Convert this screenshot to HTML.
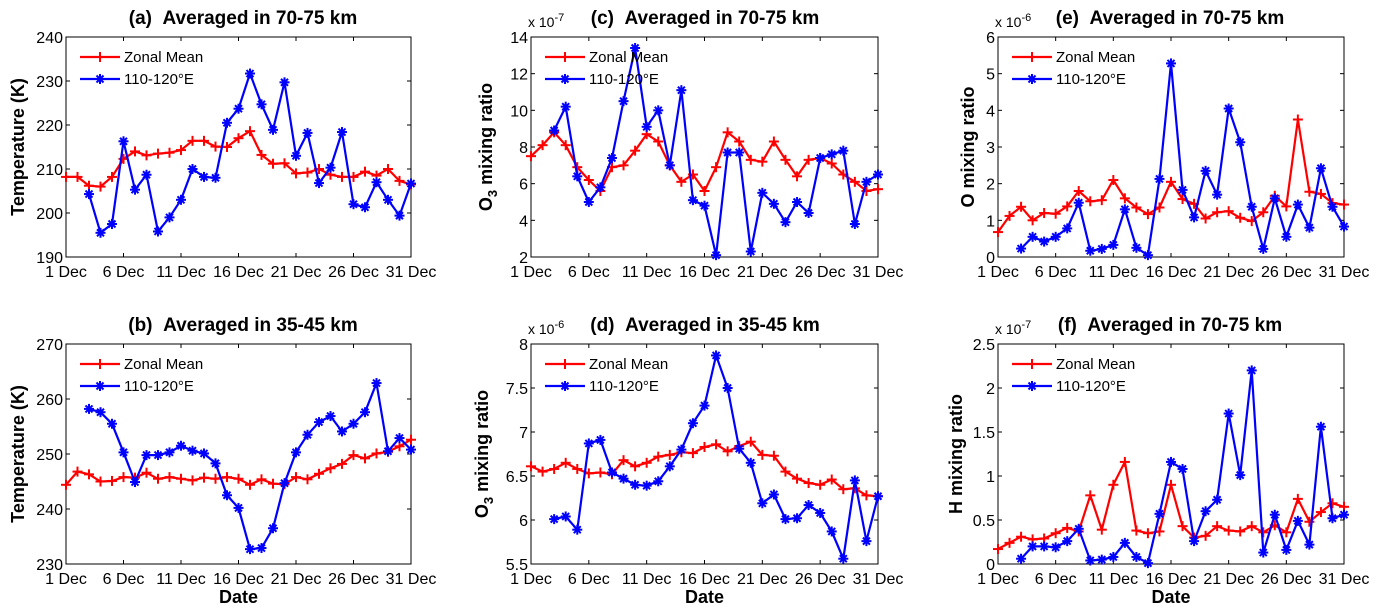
<!DOCTYPE html>
<html><head><meta charset="utf-8"><style>
body{margin:0;background:#fff;}
svg{display:block;font-family:"Liberation Sans",Arial,sans-serif;}
</style></head><body>
<svg id="chart" width="1381" height="611" viewBox="0 0 1381 611" xmlns="http://www.w3.org/2000/svg"></svg>
<script>
const days = [1,2,3,4,5,6,7,8,9,10,11,12,13,14,15,16,17,18,19,20,21,22,23,24,25,26,27,28,29,30,31];
const blueDays = days.slice(2);
const xTickDays = [1,6,11,16,21,26,31];
const xTickLabels = ["1 Dec","6 Dec","11 Dec","16 Dec","21 Dec","26 Dec","31 Dec"];

const aRed = [208.2,208.2,206.2,206,208.2,212.3,214,213.1,213.5,213.7,214.3,216.4,216.4,215.1,215,217,218.6,213.2,211.2,211.3,209,209.2,210,208.7,208.2,208.2,209.4,208.5,210,207.3,206.5];
const aBlue = [204.3,195.5,197.5,216.3,205.3,208.7,195.8,199,203,210,208.2,208,220.5,223.7,231.7,224.7,218.9,229.7,213,218.2,206.8,210.3,218.4,202,201.3,207,203,199.4,206.7];
const aTicks = [190,200,210,220,230,240];

const bRed = [244.4,246.8,246.3,245,245.1,245.8,245.7,246.6,245.5,245.8,245.5,245.2,245.7,245.5,245.8,245.5,244.4,245.4,244.6,244.5,245.8,245.4,246.4,247.4,248.2,249.8,249.2,250.1,250.4,251.4,252.6];
const bBlue = [258.2,257.6,255.5,250.3,244.9,249.8,249.8,250.3,251.5,250.6,250.1,248.3,242.5,240.2,232.7,232.9,236.5,244.7,250.3,253.5,255.8,256.9,254.1,255.5,257.6,262.9,250.5,252.9,250.8];
const bTicks = [230,240,250,260,270];

const cRed = [7.5,8.1,8.8,8.1,6.9,6.2,5.6,6.9,7,7.8,8.7,8.3,7,6.1,6.5,5.6,6.9,8.8,8.3,7.3,7.2,8.3,7.3,6.4,7.3,7.4,7.1,6.5,6.1,5.6,5.7];
const cBlue = [8.9,10.2,6.4,5,5.8,7.4,10.5,13.4,9.1,10,7,11.1,5.1,4.8,2.1,7.7,7.7,2.3,5.5,4.9,3.9,5,4.4,7.4,7.6,7.8,3.8,6.1,6.5];
const cTicks = [2,4,6,8,10,12,14];

const dRed = [6.61,6.55,6.58,6.65,6.58,6.53,6.54,6.52,6.68,6.61,6.65,6.72,6.74,6.77,6.76,6.83,6.86,6.78,6.84,6.89,6.74,6.73,6.55,6.47,6.42,6.40,6.46,6.35,6.36,6.28,6.27];
const dBlue = [6.01,6.04,5.89,6.87,6.91,6.54,6.47,6.40,6.39,6.44,6.61,6.80,7.10,7.30,7.87,7.50,6.81,6.65,6.19,6.29,6.01,6.02,6.17,6.08,5.87,5.56,6.45,5.76,6.27];
const dTicks = [5.5,6,6.5,7,7.5,8];
const dTickLabels = ["5.5","6","6.5","7","7.5","8"];

const eRed = [0.68,1.12,1.37,1.0,1.2,1.18,1.38,1.8,1.52,1.55,2.1,1.6,1.35,1.17,1.35,2.05,1.58,1.45,1.05,1.22,1.25,1.07,0.98,1.22,1.67,1.38,3.75,1.78,1.72,1.47,1.43];
const eBlue = [0.23,0.55,0.42,0.55,0.78,1.48,0.17,0.22,0.33,1.3,0.25,0.05,2.13,5.28,1.83,1.08,2.35,1.7,4.05,3.13,1.37,0.22,1.6,0.55,1.43,0.8,2.42,1.37,0.83];
const eTicks = [0,1,2,3,4,5,6];

const fRed = [0.17,0.24,0.31,0.28,0.29,0.35,0.41,0.37,0.78,0.39,0.9,1.16,0.38,0.35,0.37,0.9,0.43,0.3,0.32,0.43,0.38,0.37,0.43,0.36,0.44,0.36,0.74,0.48,0.59,0.69,0.65];
const fBlue = [0.06,0.2,0.2,0.19,0.26,0.4,0.04,0.05,0.08,0.24,0.08,0.01,0.57,1.16,1.08,0.26,0.6,0.73,1.71,1.01,2.2,0.13,0.56,0.16,0.49,0.22,1.56,0.52,0.56];
const fTicks = [0,0.5,1,1.5,2,2.5];
const fTickLabels = ["0","0.5","1","1.5","2","2.5"];

const NS="http://www.w3.org/2000/svg";
const svg=document.getElementById('chart');
function mk(tag,attrs,parent,txt){const e=document.createElementNS(NS,tag);for(const k in attrs)e.setAttribute(k,attrs[k]);if(txt!==undefined)e.textContent=txt;(parent||svg).appendChild(e);return e;}

function marker(p,x,y,color,star){
  const s=5;
  mk('line',{x1:x-s,y1:y,x2:x+s,y2:y,stroke:color,'stroke-width':2},p);
  mk('line',{x1:x,y1:y-s,x2:x,y2:y+s,stroke:color,'stroke-width':2},p);
  if(star){
    mk('line',{x1:x-3.5,y1:y-3.5,x2:x+3.5,y2:y+3.5,stroke:color,'stroke-width':2},p);
    mk('line',{x1:x-3.5,y1:y+3.5,x2:x+3.5,y2:y-3.5,stroke:color,'stroke-width':2},p);
  }
}

function panel(o){
  const g=mk('g',{});
  
  
  const L=o.x0,R=o.x1,T=o.y0,B=o.y1;
  const xs=d=>L+(d-1)*(R-L)/30;
  const ys=v=>B-(v-o.ymin)*(B-T)/(o.ymax-o.ymin);
  const frame=mk('rect',{x:L,y:T,width:R-L,height:B-T,fill:'none',stroke:'#000','stroke-width':1},g);
  
  
  xTickDays.forEach((d,i)=>{
    const x=xs(d);
    mk('line',{x1:x,y1:B,x2:x,y2:B-4,stroke:'#000'},g);
    mk('line',{x1:x,y1:T,x2:x,y2:T+4,stroke:'#000'},g);
    const t=mk('text',{x:x,y:B+20,'font-size':16,'text-anchor':'middle'},g,xTickLabels[i]);
    
    
  });
  o.ticks.forEach((v,i)=>{
    const y=ys(v);
    mk('line',{x1:L,y1:y,x2:L+4,y2:y,stroke:'#000'},g);
    mk('line',{x1:R,y1:y,x2:R-4,y2:y,stroke:'#000'},g);
    const t=mk('text',{x:L-3,y:y+6,'font-size':16,'text-anchor':'end'},g,o.tickLabels?o.tickLabels[i]:String(v));
    
    
  });
  if(o.exp){
    const t=mk('text',{x:L-3,y:T-10,'font-size':14},g);
    
    
    mk('tspan',{},t,'x 10');
    mk('tspan',{dy:-6,'font-size':11},t,o.exp);
  }
  const title=mk('text',{x:o.tx,y:T-13,'font-size':19,'font-weight':'bold','text-anchor':'middle'},g,o.title);
  
  
  const yl=mk('text',{transform:`translate(${o.ylx},${(T+B)/2}) rotate(-90)`,'font-size':18,'font-weight':'bold','text-anchor':'middle'},g);
  
  
  if(o.o3){mk('tspan',{},yl,'O');mk('tspan',{dy:5,'font-size':13},yl,'3');mk('tspan',{dy:-5},yl,' mixing ratio');}
  else yl.textContent=o.ylabel;
  if(o.date){
    const dl=mk('text',{x:(L+R)/2,y:B+39,'font-size':18,'font-weight':'bold','text-anchor':'middle'},g,'Date');
    
    
  }
  function series(dd,vals,color,star,name){
    const pts=vals.map((v,i)=>xs(dd[i]).toFixed(1)+','+ys(v).toFixed(1)).join(' ');
    const pl=mk('polyline',{points:pts,fill:'none',stroke:color,'stroke-width':2.2},g);
    
    
    vals.forEach((v,i)=>marker(g,xs(dd[i]),ys(v),color,star));
  }
  series(days,o.red,'#ff0000',false,'zonal-mean');
  series(blueDays,o.blue,'#0000ff',true,'longitude-110-120e');
  const lx=L+14, ly1=T+20, ly2=T+42;
  const lg=mk('g',{},g);
  
  
  mk('line',{x1:lx,y1:ly1,x2:lx+40,y2:ly1,stroke:'#ff0000','stroke-width':2.2},lg);
  mk('line',{x1:lx,y1:ly2,x2:lx+40,y2:ly2,stroke:'#0000ff','stroke-width':2.2},lg);
  marker(lg,lx+20,ly1,'#ff0000',false);
  marker(lg,lx+20,ly2,'#0000ff',true);
  const t1=mk('text',{x:lx+44,y:ly1+5,'font-size':15},lg,'Zonal Mean');
  
  
  const t2=mk('text',{x:lx+44,y:ly2+5,'font-size':15},lg,'110-120°E');
  
  
}
const T1=37,B1=257,T2=344,B2=564;
const SP='\u00a0\u00a0';
panel({id:'a',x0:66,x1:411,y0:T1,y1:B1,ymin:190,ymax:240,ticks:aTicks,red:aRed,blue:aBlue,title:'(a)'+SP+'Averaged in 70-75 km',tx:243,ylabel:'Temperature (K)',ylx:24});
panel({id:'b',x0:66,x1:411,y0:T2,y1:B2,ymin:230,ymax:270,ticks:bTicks,red:bRed,blue:bBlue,title:'(b)'+SP+'Averaged in 35-45 km',tx:243,ylabel:'Temperature (K)',ylx:24,date:true});
panel({id:'c',x0:531,x1:878,y0:T1,y1:B1,ymin:2,ymax:14,ticks:cTicks,red:cRed,blue:cBlue,title:'(c)'+SP+'Averaged in 70-75 km',tx:705,o3:true,ylx:492,exp:'-7'});
panel({id:'d',x0:531,x1:878,y0:T2,y1:B2,ymin:5.5,ymax:8,ticks:dTicks,tickLabels:dTickLabels,red:dRed,blue:dBlue,title:'(d)'+SP+'Averaged in 35-45 km',tx:705,o3:true,ylx:488,exp:'-6',date:true});
panel({id:'e',x0:998,x1:1344,y0:T1,y1:B1,ymin:0,ymax:6,ticks:eTicks,red:eRed,blue:eBlue,title:'(e)'+SP+'Averaged in 70-75 km',tx:1170,ylabel:'O mixing ratio',ylx:974,exp:'-6'});
panel({id:'f',x0:998,x1:1344,y0:T2,y1:B2,ymin:0,ymax:2.5,ticks:fTicks,tickLabels:fTickLabels,red:fRed,blue:fBlue,title:'(f)'+SP+'Averaged in 70-75 km',tx:1170,ylabel:'H mixing ratio',ylx:962,exp:'-7',date:true});
</script>
</body></html>
